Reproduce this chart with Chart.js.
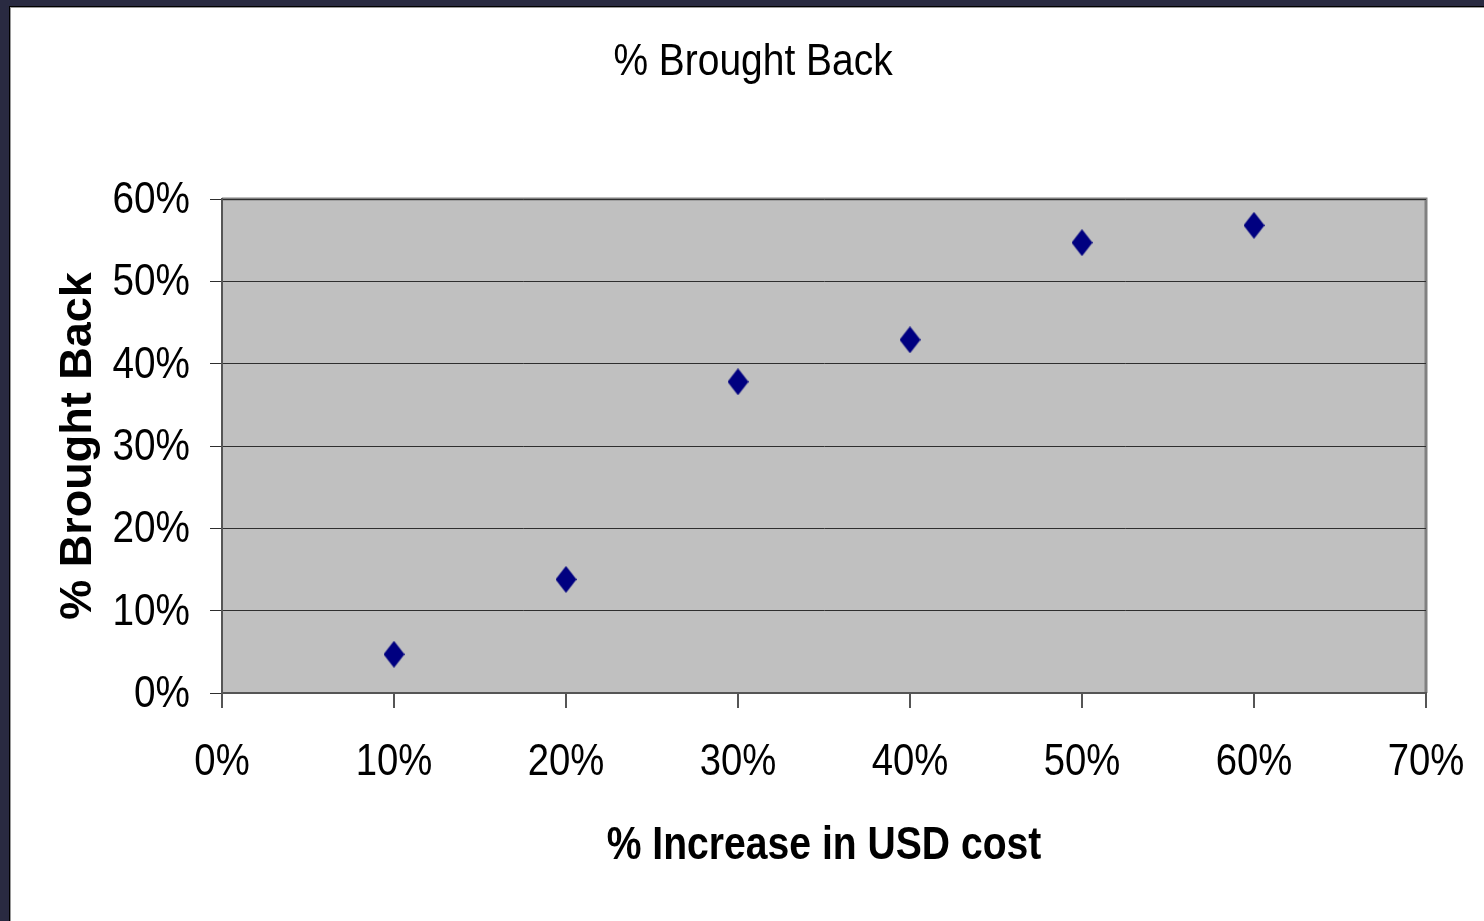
<!DOCTYPE html>
<html>
<head>
<meta charset="utf-8">
<title>% Brought Back</title>
<script src="https://cdn.jsdelivr.net/npm/chart.js@4.4.1/dist/chart.umd.min.js"></script>
<style>
  html, body { margin: 0; padding: 0; }
  body { width: 1484px; height: 921px; background: #292a41; position: relative; overflow: hidden; }
  #sheet {
    position: absolute; left: 9px; top: 6px; right: 0; bottom: 0;
    background: #ffffff;
    border-top: 1px solid #000;
    border-left: 1px solid #000;
    box-shadow: inset 1px 1px 0 #9a9a9a;
  }
  #wrap { position: absolute; left: 22px; top: 0; width: 1462px; height: 921px; }
</style>
</head>
<body>
<div id="sheet"></div>
<div id="wrap"><canvas id="chart" width="1462" height="921"></canvas></div>
<script>
// Increase in USD cost (%) and share brought back (%)
const increasePct = [10, 20, 30, 40, 50, 60];
const broughtBackPct = [4.7, 13.8, 37.8, 42.9, 54.7, 56.8];
const xTicks = [0, 10, 20, 30, 40, 50, 60, 70];
const yTicks = [0, 10, 20, 30, 40, 50, 60];
const chartTitle = '% Brought Back';
const xTitle = '% Increase in USD cost';
const yTitle = '% Brought Back';

const sans = "'Liberation Sans', Arial, sans-serif";

// Navy diamond marker, slightly taller than wide
function diamond(w, h, color) {
  const c = document.createElement('canvas');
  c.width = w; c.height = h;
  const g = c.getContext('2d');
  g.fillStyle = color;
  g.beginPath();
  g.moveTo(w / 2, 0);
  g.lineTo(w, h / 2);
  g.lineTo(w / 2, h);
  g.lineTo(0, h / 2);
  g.closePath();
  g.fill();
  return c;
}

// Text squeezed horizontally to imitate a narrow face
function narrowText(ctx, text, x, y, squeeze, align, font) {
  ctx.save();
  ctx.font = font;
  ctx.fillStyle = '#000';
  ctx.textAlign = align;
  ctx.textBaseline = 'alphabetic';
  ctx.translate(x, y);
  ctx.scale(squeeze, 1);
  ctx.fillText(text, 0, 0);
  ctx.restore();
}

// Grey plot area with a darker top and right edge
const plotBackground = {
  id: 'plotBackground',
  beforeDraw(chart) {
    const {ctx, chartArea: a} = chart;
    ctx.save();
    ctx.fillStyle = '#c0c0c0';
    ctx.fillRect(a.left, a.top, a.right - a.left, a.bottom - a.top);
    ctx.strokeStyle = '#808080';
    ctx.lineWidth = 3;
    ctx.beginPath();
    ctx.moveTo(a.left, a.top);
    ctx.lineTo(a.right, a.top);
    ctx.lineTo(a.right, a.bottom);
    ctx.stroke();
    ctx.restore();
  }
};

// Chart title, tick labels and x-axis title in a condensed style
const narrowLabels = {
  id: 'narrowLabels',
  afterDraw(chart) {
    const {ctx, chartArea: a, scales: {x, y}} = chart;
    const tickFont = '44px ' + sans;
    narrowText(ctx, chartTitle, 731, 75, 0.885, 'center', '44px ' + sans);
    x.ticks.forEach(t => {
      narrowText(ctx, t.value + '%', x.getPixelForValue(t.value), 775, 0.87, 'center', tickFont);
    });
    y.ticks.forEach(t => {
      narrowText(ctx, t.value + '%', a.left - 32, y.getPixelForValue(t.value) + 14, 0.88, 'right', tickFont);
    });
    narrowText(ctx, xTitle, (a.left + a.right) / 2, 859, 0.85, 'center', 'bold 46px ' + sans);
  }
};

new Chart(document.getElementById('chart'), {
  type: 'scatter',
  data: {
    datasets: [{
      label: '% Brought Back',
      data: increasePct.map((v, i) => ({x: v, y: broughtBackPct[i]})),
      pointStyle: diamond(21, 27, '#000080'),
      backgroundColor: '#000080',
      borderColor: '#000080'
    }]
  },
  options: {
    responsive: false,
    animation: false,
    layout: { padding: { left: 0, right: 58, top: 199, bottom: 0 } },
    plugins: {
      legend: { display: false },
      tooltip: { enabled: false },
      title: { display: false }
    },
    scales: {
      x: {
        type: 'linear',
        min: 0, max: 70,
        afterBuildTicks(s) { s.ticks = xTicks.map(v => ({value: v})); },
        afterFit(s) { s.height = 228; },
        ticks: { display: false },
        grid: {
          drawOnChartArea: false,
          drawTicks: true,
          tickLength: 15,
          color: '#555',
          lineWidth: 2
        },
        border: { display: true, color: '#555', width: 2 },
        title: { display: false }
      },
      y: {
        type: 'linear',
        min: 0, max: 60,
        afterBuildTicks(s) { s.ticks = yTicks.map(v => ({value: v})); },
        afterFit(s) { s.width = 200; },
        ticks: { display: false },
        grid: {
          drawTicks: true,
          tickLength: 12,
          color: '#2e2e2e',
          lineWidth: 1
        },
        border: { display: true, color: '#555', width: 2 },
        title: {
          display: true,
          text: yTitle,
          color: '#000',
          font: { family: sans, size: 45, weight: 'bold', lineHeight: 1.2 },
          padding: { top: 30, bottom: 0 }
        }
      }
    }
  },
  plugins: [plotBackground, narrowLabels]
});
</script>
</body>
</html>
